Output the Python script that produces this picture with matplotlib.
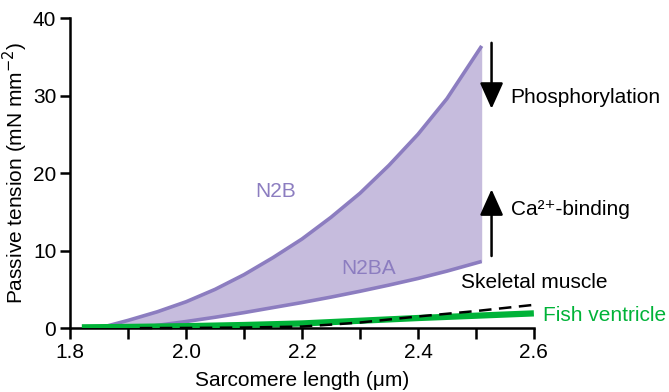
import numpy as np
import matplotlib
matplotlib.use("Agg")
import matplotlib.pyplot as plt

plt.rcParams['font.family'] = ['Liberation Sans', 'DejaVu Sans']

# N2B (upper boundary of the cardiac band)
n2b_x = [1.85, 1.90, 1.95, 2.00, 2.05, 2.10, 2.15, 2.20, 2.25, 2.30, 2.35, 2.40, 2.45, 2.51]
n2b_y = [0.0, 1.0, 2.1, 3.4, 5.0, 6.9, 9.1, 11.5, 14.3, 17.4, 21.0, 25.0, 29.6, 36.4]

# N2BA (lower boundary)
n2ba_x = [1.92, 1.95, 2.00, 2.05, 2.10, 2.15, 2.20, 2.25, 2.30, 2.35, 2.40, 2.45, 2.51]
n2ba_y = [0.0, 0.35, 0.85, 1.4, 2.0, 2.65, 3.3, 4.0, 4.75, 5.55, 6.4, 7.35, 8.6]

# skeletal muscle (dashed)
skel_x = [1.92, 2.0, 2.1, 2.2, 2.25, 2.3, 2.4, 2.5, 2.6]
skel_y = [0.0, 0.02, 0.07, 0.2, 0.45, 0.72, 1.5, 2.2, 3.0]

# fish ventricle (green)
fish_x = [1.82, 1.9, 2.0, 2.1, 2.2, 2.3, 2.4, 2.5, 2.6]
fish_y = [0.1, 0.15, 0.25, 0.4, 0.6, 0.95, 1.3, 1.6, 1.9]

x_ticks = [1.8, 2.0, 2.2, 2.4, 2.6]
y_ticks = [0, 10, 20, 30, 40]

purple_line = '#8c7dc0'
purple_fill = '#c6bcdd'
green = '#00b338'

fig = plt.figure(figsize=(6.69, 3.92), dpi=100)
ax = fig.add_axes([0.105, 0.163, 0.693, 0.791])

# shaded band between N2B and N2BA
xs = np.linspace(n2b_x[0], n2b_x[-1], 300)
upper = np.interp(xs, n2b_x, n2b_y)
lower = np.interp(xs, n2ba_x, n2ba_y, left=0.0)
ax.fill_between(xs, lower, upper, color=purple_fill, lw=0, zorder=1)

ax.plot(n2b_x, n2b_y, color=purple_line, lw=2.6, solid_capstyle='butt',
        solid_joinstyle='round', zorder=3)
ax.plot(n2ba_x, n2ba_y, color=purple_line, lw=2.6, solid_capstyle='butt',
        solid_joinstyle='round', zorder=3)
ax.plot(fish_x, fish_y, color=green, lw=4.5, solid_capstyle='butt', zorder=4)
ax.plot(skel_x, skel_y, color='black', lw=1.8, ls=(0, (5, 3)), zorder=5, clip_on=False)

fs = 15
ax.text(2.155, 17.6, 'N2B', color=purple_line, fontsize=fs, ha='center', va='center')
ax.text(2.315, 7.7, 'N2BA', color=purple_line, fontsize=fs, ha='center', va='center')
ax.text(2.475, 5.9, 'Skeletal muscle', color='black', fontsize=fs, ha='left', va='center')
ax.text(2.615, 1.6, 'Fish ventricle', color=green, fontsize=fs, ha='left', va='center',
        clip_on=False)
ax.text(2.56, 29.8, 'Phosphorylation', fontsize=fs, ha='left', va='center', clip_on=False)
ax.text(2.56, 15.3, 'Ca\u00b2\u207a-binding', fontsize=fs, ha='left', va='center', clip_on=False)

# arrows
arrow_kw = dict(arrowstyle='-|>,head_width=0.45,head_length=1.0', color='black', lw=1.8,
                shrinkA=0, shrinkB=0, mutation_scale=16)
ax.annotate('', xy=(2.527, 28.3), xytext=(2.527, 36.8), arrowprops=arrow_kw)
ax.annotate('', xy=(2.527, 17.9), xytext=(2.527, 9.3), arrowprops=arrow_kw)

ax.set_xlim(1.8, 2.6)
ax.set_ylim(0, 40)
ax.set_xticks(x_ticks)
ax.set_xticks([1.9, 2.1, 2.3, 2.5], minor=True)
ax.set_yticks(y_ticks)
ax.set_xticklabels([f'{v:.1f}' for v in x_ticks])
ax.tick_params(labelsize=fs, width=1.8, length=8, direction='out', pad=3)
ax.tick_params(which='minor', width=1.8, length=8, direction='out')
ax.tick_params(axis='y', length=7)

for s in ['top', 'right']:
    ax.spines[s].set_visible(False)
for s in ['left', 'bottom']:
    ax.spines[s].set_linewidth(1.8)

ax.set_xlabel('Sarcomere length (\u03bcm)', fontsize=fs, labelpad=6)
ax.set_ylabel('Passive tension (mN mm$^{-2}$)', fontsize=fs, labelpad=2)

fig.savefig('out.png', dpi=100)
